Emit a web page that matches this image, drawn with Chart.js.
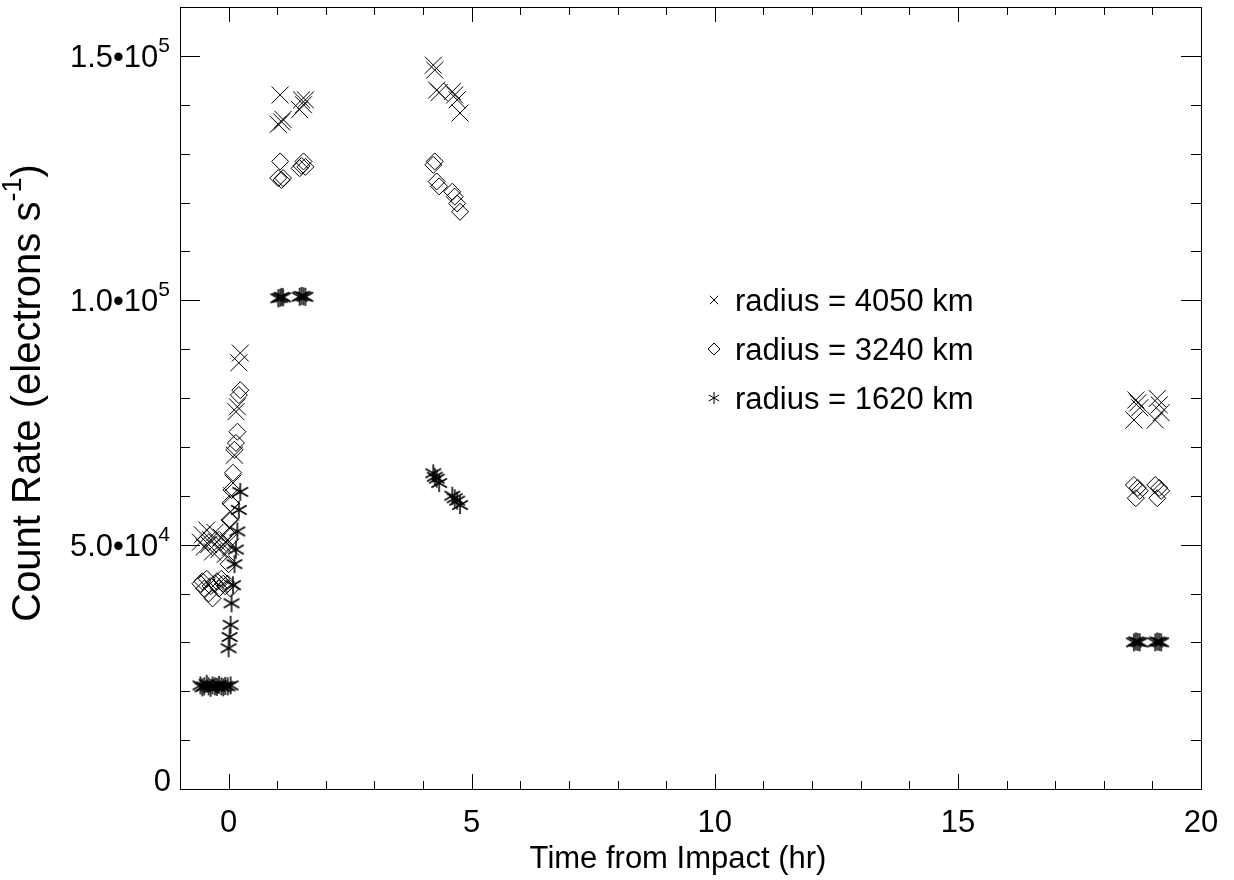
<!DOCTYPE html>
<html>
<head>
<meta charset="utf-8">
<script src="https://cdn.jsdelivr.net/npm/chart.js@4/dist/chart.umd.min.js"></script>
<style>
	body { margin: 0; background: #fff; }
	#box { width: 1234px; height: 880px; }
</style>
</head>
<body>
<div id="box"><canvas id="grafico" width="1234" height="880"></canvas></div>
<script>
/* Datos: tiempo en horas, cuentas en unidades de 1e4 */
const hours = [
	-0.58, -0.54, -0.50, -0.45, -0.41, -0.37, -0.33, -0.28, -0.24, -0.20, -0.15, -0.11, -0.07, -0.02, 0.04,
	0.00, 0.02, 0.04, 0.06, 0.09, 0.12, 0.15, 0.18, 0.21, 0.24,
	1.02, 1.06, 1.09, 1.12, 1.46, 1.50, 1.54, 1.58,
	4.21, 4.24, 4.28, 4.33, 4.60, 4.65, 4.70, 4.76,
	18.62, 18.66, 18.70, 18.74, 19.06, 19.10, 19.14, 19.18,
];
const rate4050 = [
	5.05, 5.20, 4.95, 5.30, 5.00, 5.10, 4.85, 5.25, 5.05, 4.90, 5.15, 5.00, 4.80, 5.10, 4.95,
	5.05, 5.35, 5.67, 6.00, 6.26, 6.83, 7.72, 7.82, 8.72, 8.92,
	13.60, 14.20, 13.65, 13.70, 13.90, 14.10, 14.00, 14.10,
	14.81, 14.71, 14.30, 14.25, 14.27, 14.20, 14.10, 13.83,
	7.55, 7.96, 7.90, 7.80, 7.55, 7.99, 7.86, 7.70,
];
const rate3240 = [
	4.20, 4.25, 4.10, 4.30, 4.00, 4.15, 3.90, 4.20, 4.25, 4.10, 4.30, 4.20, 4.15, 4.20, 4.10,
	4.60, 5.50, 5.85, 6.12, 6.47, 6.94, 7.08, 7.31, 8.06, 8.16,
	12.50, 12.84, 12.46, 12.50, 12.70, 12.75, 12.84, 12.73,
	12.77, 12.84, 12.43, 12.33, 12.22, 12.12, 11.98, 11.81,
	6.22, 5.95, 6.16, 6.10, 6.22, 5.95, 6.16, 6.10,
];
const rate1620 = [
	2.12, 2.08, 2.10, 2.15, 2.10, 2.07, 2.12, 2.10, 2.09, 2.13, 2.10, 2.08, 2.11, 2.10, 2.12,
	2.88, 3.11, 3.36, 3.80, 4.17, 4.60, 4.90, 5.27, 5.71, 6.08,
	10.04, 10.05, 10.07, 10.06, 10.07, 10.09, 10.08, 10.07,
	6.46, 6.39, 6.35, 6.26, 6.00, 5.95, 5.90, 5.81,
	3.00, 3.02, 3.01, 3.00, 3.00, 3.02, 3.01, 3.00,
];
const seriesLabels = ["radius = 4050 km", "radius = 3240 km", "radius = 1620 km"];

const xTicks = [0, 5, 10, 15, 20];
const xTickLabels = ["0", "5", "10", "15", "20"];
const yTicks = [0, 50000, 100000, 150000];
const yTickMantissa = ["0", "5.0•10", "1.0•10", "1.5•10"];
const yTickExponent = ["", "4", "5", "5"];

const FONT = '"Liberation Sans", Arial, sans-serif';

function toPoints(valores) {
	return hours.map((h, i) => ({ x: h, y: valores[i] * 1e4 }));
}

// asterisco de IDL (6 brazos)
function makeAsterisk(r) {
	const c = document.createElement("canvas");
	const s = Math.ceil(r * 2 + 2);
	c.width = s;
	c.height = s;
	const g = c.getContext("2d");
	g.strokeStyle = "#000";
	g.lineWidth = 1.5;
	g.beginPath();
	for (let k = 0; k < 3; k++) {
		const a = Math.PI / 2 + (k * Math.PI) / 3;
		g.moveTo(s / 2 - Math.cos(a) * r, s / 2 - Math.sin(a) * r);
		g.lineTo(s / 2 + Math.cos(a) * r, s / 2 + Math.sin(a) * r);
	}
	g.stroke();
	return c;
}
const asterisk = makeAsterisk(9);

// ejes tipo IDL: caja, marcas hacia dentro, etiquetas y leyenda
const idlAxes = {
	id: "idlAxes",
	afterDraw(chart) {
		const { ctx, chartArea: a, scales } = chart;
		const x = scales.x, y = scales.y;
		ctx.save();
		ctx.strokeStyle = "#000";
		ctx.fillStyle = "#000";
		ctx.lineWidth = 1;
		ctx.strokeRect(a.left + 0.5, a.top + 0.5, a.right - a.left, a.bottom - a.top);

		ctx.beginPath();
		for (let v = 0; v <= 20; v++) {
			const px = Math.round(x.getPixelForValue(v)) + 0.5;
			const len = v % 5 == 0 ? 15 : 8;
			ctx.moveTo(px, a.bottom);
			ctx.lineTo(px, a.bottom - len);
			ctx.moveTo(px, a.top);
			ctx.lineTo(px, a.top + len);
		}
		for (let v = 10000; v < 160000; v += 10000) {
			const py = Math.round(y.getPixelForValue(v)) + 0.5;
			const len = v % 50000 == 0 ? 20 : 10;
			ctx.moveTo(a.left, py);
			ctx.lineTo(a.left + len, py);
			ctx.moveTo(a.right, py);
			ctx.lineTo(a.right - len, py);
		}
		ctx.stroke();

		// etiquetas eje x
		ctx.font = "31px " + FONT;
		ctx.textAlign = "center";
		ctx.textBaseline = "alphabetic";
		xTicks.forEach((v, i) => ctx.fillText(xTickLabels[i], x.getPixelForValue(v), a.bottom + 43));

		// etiquetas eje y con exponente
		const right = a.left - 10;
		yTicks.forEach((v, i) => {
			const py = y.getPixelForValue(v);
			ctx.textAlign = "right";
			if (!yTickExponent[i]) {
				ctx.font = "31px " + FONT;
				ctx.fillText(yTickMantissa[i], right + 1, py + 2);
				return;
			}
			ctx.font = "21px " + FONT;
			const ew = ctx.measureText(yTickExponent[i]).width;
			ctx.fillText(yTickExponent[i], right, py - 4);
			ctx.font = "31px " + FONT;
			ctx.fillText(yTickMantissa[i], right - ew, py + 11);
		});

		// titulo eje x
		ctx.textAlign = "center";
		ctx.font = "31px " + FONT;
		ctx.fillText("Time from Impact (hr)", 678, 868);

		// titulo eje y (rotado)
		ctx.save();
		ctx.translate(40, 393);
		ctx.rotate(-Math.PI / 2);
		const p1 = "Count Rate (electrons s", p2 = "-1", p3 = ")";
		ctx.font = "40px " + FONT;
		const w1 = ctx.measureText(p1).width, w3 = ctx.measureText(p3).width;
		ctx.font = "27px " + FONT;
		const w2 = ctx.measureText(p2).width;
		let tx = -(w1 + w2 + w3) / 2;
		ctx.textAlign = "left";
		ctx.font = "40px " + FONT;
		ctx.fillText(p1, tx, 0);
		ctx.font = "27px " + FONT;
		ctx.fillText(p2, tx + w1, -19);
		ctx.font = "40px " + FONT;
		ctx.fillText(p3, tx + w1 + w2, 0);
		ctx.restore();

		// leyenda
		const lx = 714, rows = [300, 349, 398];
		ctx.beginPath();
		let d = 4.2;
		ctx.moveTo(lx - d, rows[0] - d); ctx.lineTo(lx + d, rows[0] + d);
		ctx.moveTo(lx + d, rows[0] - d); ctx.lineTo(lx - d, rows[0] + d);
		d = 6;
		ctx.moveTo(lx - d, rows[1]); ctx.lineTo(lx, rows[1] - d);
		ctx.lineTo(lx + d, rows[1]); ctx.lineTo(lx, rows[1] + d); ctx.closePath();
		for (let k = 0; k < 3; k++) {
			const ang = Math.PI / 2 + (k * Math.PI) / 3;
			ctx.moveTo(lx - Math.cos(ang) * 6, rows[2] - Math.sin(ang) * 6);
			ctx.lineTo(lx + Math.cos(ang) * 6, rows[2] + Math.sin(ang) * 6);
		}
		ctx.stroke();
		ctx.font = "31px " + FONT;
		ctx.textAlign = "left";
		seriesLabels.forEach((t, i) => ctx.fillText(t, 735, rows[i] + 11));
		ctx.restore();
	},
};

const config = {
	type: "scatter",
	data: {
		datasets: [
			{
				label: seriesLabels[0],
				data: toPoints(rate4050),
				pointStyle: "crossRot",
				pointRadius: 12,
				borderColor: "#000",
				backgroundColor: "rgba(0,0,0,0)",
				borderWidth: 1,
			},
			{
				label: seriesLabels[1],
				data: toPoints(rate3240),
				pointStyle: "rectRot",
				pointRadius: 8.5,
				borderColor: "#000",
				backgroundColor: "rgba(0,0,0,0)",
				borderWidth: 1,
			},
			{
				label: seriesLabels[2],
				data: toPoints(rate1620),
				pointStyle: asterisk,
				pointRadius: 9,
				borderColor: "#000",
				backgroundColor: "rgba(0,0,0,0)",
				borderWidth: 1,
			},
		],
	},
	options: {
		responsive: false,
		animation: false,
		layout: { autoPadding: false, padding: { left: 180, right: 33, top: 7, bottom: 91 } },
		plugins: { legend: { display: false }, tooltip: { enabled: false } },
		scales: {
			x: { type: "linear", min: -1, max: 20, display: false },
			y: { type: "linear", min: 0, max: 160000, display: false },
		},
	},
	plugins: [idlAxes],
};

new Chart(document.getElementById("grafico"), config);
</script>
</body>
</html>
